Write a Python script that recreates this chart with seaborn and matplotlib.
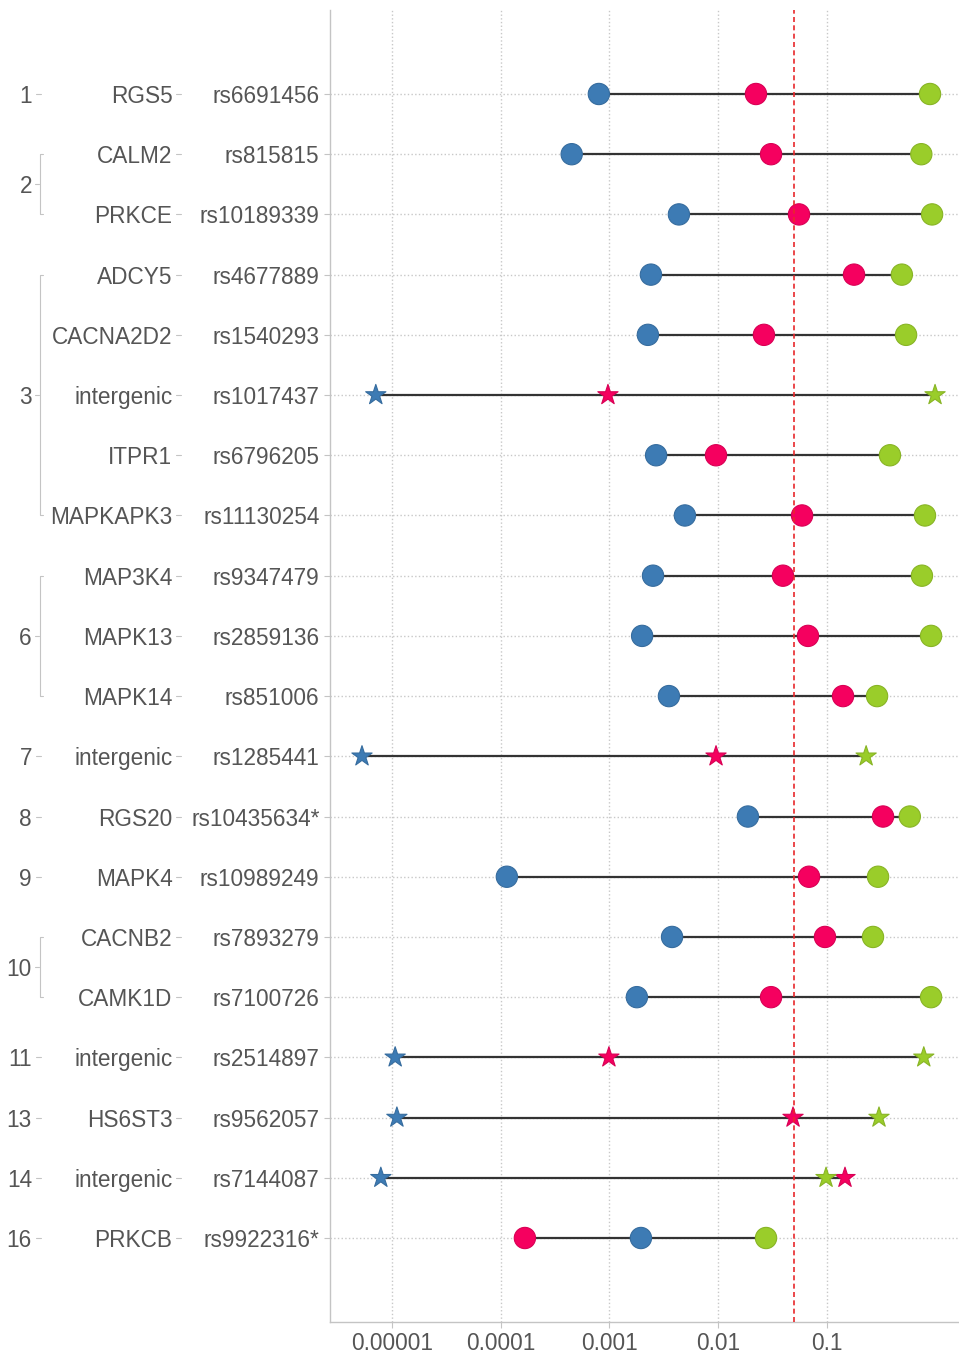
import numpy as np
import pandas as pd
import matplotlib
matplotlib.use("Agg")
import matplotlib.pyplot as plt
import matplotlib.transforms as mtransforms
from matplotlib.ticker import NullLocator
import seaborn as sns
from itertools import groupby

# rows, top to bottom
chrom = ["1", "2", "2", "3", "3", "3", "3", "3", "6", "6", "6",
         "7", "8", "9", "10", "10", "11", "13", "14", "16"]
genes = ["RGS5", "CALM2", "PRKCE", "ADCY5", "CACNA2D2", "intergenic", "ITPR1",
         "MAPKAPK3", "MAP3K4", "MAPK13", "MAPK14", "intergenic", "RGS20", "MAPK4",
         "CACNB2", "CAMK1D", "intergenic", "HS6ST3", "intergenic", "PRKCB"]
snps = ["rs6691456", "rs815815", "rs10189339", "rs4677889", "rs1540293", "rs1017437",
        "rs6796205", "rs11130254", "rs9347479", "rs2859136", "rs851006", "rs1285441",
        "rs10435634*", "rs10989249", "rs7893279", "rs7100726", "rs2514897", "rs9562057",
        "rs7144087", "rs9922316*"]
p_blue = [0.0008, 0.00045, 0.00436, 0.00241, 0.00226, 7.1e-6, 0.00269, 0.00495,
          0.00252, 0.0020, 0.00353, 5.3e-6, 0.0188, 0.000114, 0.00377, 0.00179,
          1.07e-5, 1.11e-5, 7.9e-6, 0.00195]
p_red = [0.0223, 0.0307, 0.0555, 0.178, 0.0264, 0.00097, 0.00957, 0.0592,
         0.0395, 0.0671, 0.141, 0.00957, 0.329, 0.0686, 0.0962, 0.0307,
         0.00099, 0.0489, 0.147, 0.000167]
p_green = [0.89, 0.74, 0.93, 0.49, 0.536, 0.99, 0.381, 0.80,
           0.75, 0.91, 0.29, 0.23, 0.58, 0.296, 0.266, 0.91,
           0.78, 0.302, 0.0984, 0.0276]
starred = [False, False, False, False, False, True, False, False, False, False, False,
           True, False, False, False, False, True, True, True, False]
cutoff = 0.05

sns.set_theme(style="whitegrid")
plt.rcParams['font.family'] = ['Liberation Sans', 'DejaVu Sans']

df = pd.DataFrame({"row": range(len(snps)), "snp": snps, "gene": genes, "chrom": chrom,
                   "blue": p_blue, "red": p_red, "green": p_green,
                   "marker": ["star" if s else "circle" for s in starred]})
long = df.melt(id_vars=["row", "snp", "marker"], value_vars=["blue", "red", "green"],
               var_name="set", value_name="p")

txt_color = "#555555"
fs = 16.3

fig = plt.figure(figsize=(9.59, 13.55), dpi=100)
ax = fig.add_axes([330 / 959, 33 / 1355, 629 / 959, 1312 / 1355])

# connecting segments
ax.hlines(df["row"], df[["blue", "red", "green"]].min(axis=1),
          df[["blue", "red", "green"]].max(axis=1), color="#333333", lw=1.6, zorder=2)

sns.scatterplot(data=long, x="p", y="row", hue="set", style="marker",
                palette={"blue": "#3d7bb4", "red": "#f5005f", "green": "#9acd2a"},
                markers={"circle": "o", "star": "*"}, s=235, linewidth=0.8,
                legend=False, ax=ax, zorder=3)
coll = ax.collections[-1]
fc = coll.get_facecolors()
ec = fc.copy()
ec[:, :3] = ec[:, :3] * 0.88
coll.set_edgecolors(ec)

ax.axvline(cutoff, color="#e8282b", ls=(0, (3, 2)), lw=1.2, zorder=5)

ax.set_xscale("log")
ax.set_xlim(10 ** -5.57, 10 ** 0.216)
ax.set_xticks([1e-5, 1e-4, 1e-3, 1e-2, 1e-1])
ax.set_xticklabels(["0.00001", "0.0001", "0.001", "0.01", "0.1"])
ax.xaxis.set_minor_locator(NullLocator())
ax.set_yticks(df["row"])
ax.set_yticklabels(snps)
ax.set_ylim(len(snps) - 1 + 1.395, -1.395)
ax.set_xlabel("")
ax.set_ylabel("")

ax.grid(True, which="major", color="#c8c8c8", ls=":", lw=1.0)
for side in ["top", "right"]:
    ax.spines[side].set_visible(False)
for side in ["left", "bottom"]:
    ax.spines[side].set_color("#c4c4c4")
    ax.spines[side].set_linewidth(1.0)
ax.tick_params(axis="both", bottom=True, left=True, length=4, width=0.8,
               color="#c4c4c4", labelsize=fs, labelcolor=txt_color)
ax.tick_params(axis="y", pad=3.5)
ax.tick_params(axis="x", pad=3.5)

# gene and chromosome columns
trans = mtransforms.blended_transform_factory(fig.transFigure, ax.transData)
tick_kw = dict(transform=trans, color="#c4c4c4", lw=0.8, clip_on=False)
for i, g in enumerate(genes):
    ax.text(172.5 / 959, i, g, transform=trans, ha="right", va="center_baseline",
            fontsize=fs, color=txt_color)
    ax.plot([176 / 959, 181 / 959], [i, i], **tick_kw)

start = 0
for c, grp in groupby(chrom):
    n = len(list(grp))
    rows = list(range(start, start + n))
    mid = np.mean(rows)
    ax.text(32 / 959, mid, c, transform=trans, ha="right", va="center_baseline",
            fontsize=fs, color=txt_color)
    if n == 1:
        ax.plot([36 / 959, 41 / 959], [mid, mid], **tick_kw)
    else:
        ax.plot([35 / 959, 39 / 959], [mid, mid], **tick_kw)
        ax.plot([43 / 959, 39.5 / 959, 39.5 / 959, 43 / 959],
                [rows[0], rows[0], rows[-1], rows[-1]], **tick_kw)
    start += n

fig.savefig("out.png", dpi=100)
